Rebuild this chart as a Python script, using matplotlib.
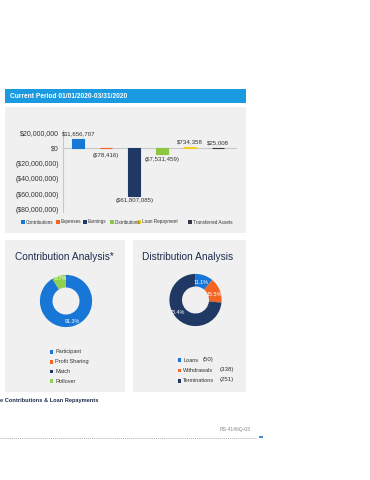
import matplotlib
matplotlib.use('Agg')
import matplotlib.pyplot as plt
from matplotlib.patches import Rectangle
from matplotlib.ticker import FuncFormatter

# ---------------------------------------------------------------------------
# Data
# ---------------------------------------------------------------------------
period_title = 'Current Period 01/01/2020-03/31/2020'

activity_labels = ['Contributions', 'Expenses', 'Earnings', 'Distributions',
                   'Loan Repayment', 'Transferred Assets']
activity_values = [11656707, -78416, -61807085, -7531459, 734358, 25008]
activity_colors = ['#1877d6', '#f26522', '#1f3864', '#8dc63f', '#f5cf1a', '#333a44']
activity_ticks = [20000000, 0, -20000000, -40000000, -60000000, -80000000]

contrib_labels = ['Participant', 'Profit Sharing', 'Match', 'Rollover']
contrib_pct = [91.3, 0.0, 0.0, 8.7]
contrib_colors = ['#1877d6', '#f26522', '#1f3864', '#92d050']

dist_labels = ['Loans', 'Withdrawals', 'Terminations']
dist_pct = [11.1, 15.5, 73.4]
dist_counts = [50, 338, 251]
dist_colors = ['#1877d6', '#f26522', '#1f3864']

footnote = 'e Contributions & Loan Repayments'
doc_code = 'RS-4146Q-03'

# ---------------------------------------------------------------------------
W, H = 370, 480
FONT = ['Liberation Sans', 'DejaVu Sans']
NAVY_TEXT = '#1f2d4d'
PANEL = '#f0f0f0'


def px_axes(fig, x0, y0, x1, y1):
    """Add axes from pixel box (top-left origin)."""
    return fig.add_axes([x0 / W, 1 - y1 / H, (x1 - x0) / W, (y1 - y0) / H])


def money(v, _=None):
    if v < 0:
        return '(${:,.0f})'.format(-v)
    return '${:,.0f}'.format(v)


fig = plt.figure(figsize=(W / 100, H / 100), dpi=100)
fig.patch.set_facecolor('white')

# background canvas in pixel coordinates
bg = fig.add_axes([0, 0, 1, 1])
bg.set_xlim(0, W)
bg.set_ylim(H, 0)
bg.axis('off')

# header + panels
bg.add_patch(Rectangle((5, 89), 241, 14, color='#1a9ae0', lw=0))
bg.text(10, 96.5, period_title, color='white', fontsize=4.8, fontweight='bold',
        family=FONT, va='center', ha='left')
bg.add_patch(Rectangle((5, 107), 241, 126, color=PANEL, lw=0))
bg.add_patch(Rectangle((5, 240), 120, 152, color=PANEL, lw=0))
bg.add_patch(Rectangle((133, 240), 113, 152, color=PANEL, lw=0))

# ---------------------------------------------------------------------------
# Activity bar chart
# ---------------------------------------------------------------------------
ax = px_axes(fig, 63, 130, 237, 212)
ax.set_facecolor('none')
xs = list(range(len(activity_values)))
ax.bar(xs, activity_values, width=0.43, color=activity_colors,
       edgecolor=activity_colors, linewidth=0.8, zorder=3)
ax.axhline(0, color='#c8c8c8', lw=0.8, zorder=2)
ax.set_xlim(-0.55, 5.68)
ax.set_ylim(-83000000, 23400000)
ax.set_yticks(activity_ticks)
ax.yaxis.set_major_formatter(FuncFormatter(money))
ax.set_xticks([])
ax.tick_params(axis='y', length=0, pad=3, labelsize=5.0, labelcolor='#333333')
for lab in ax.get_yticklabels():
    lab.set_family(FONT)
for s in ['top', 'right', 'bottom']:
    ax.spines[s].set_visible(False)
ax.spines['left'].set_color('#c8c8c8')
ax.spines['left'].set_linewidth(0.8)

for x, v in zip(xs, activity_values):
    if v >= 0:
        ax.annotate(money(v), (x, v), xytext=(0, 2), textcoords='offset points',
                    ha='center', va='bottom', fontsize=4.4, family=FONT,
                    color='#333333')
    else:
        ax.annotate(money(v), (x, min(v, -3000000)), xytext=(0, -2),
                    textcoords='offset points', ha='center', va='top',
                    fontsize=4.4, family=FONT, color='#333333')

# bar chart legend
leg_x = [21, 56, 83, 110, 137, 188]
for lx, lab, col in zip(leg_x, activity_labels, activity_colors):
    bg.add_patch(Rectangle((lx, 220.2), 3.5, 3.5, color=col, lw=0))
    bg.text(lx + 4.8, 222, lab, fontsize=3.3, family=FONT, va='center',
            ha='left', color='#333333')

# ---------------------------------------------------------------------------
# Contribution donut
# ---------------------------------------------------------------------------
bg.text(15, 257, 'Contribution Analysis*', fontsize=7.3, family=FONT,
        color=NAVY_TEXT, va='center', ha='left')
ax1 = px_axes(fig, 36, 271, 96, 331)
ax1.pie(contrib_pct, colors=contrib_colors, startangle=90, counterclock=False,
        radius=0.87, wedgeprops=dict(width=0.42, linewidth=0))
ax1.set_xlim(-1, 1)
ax1.set_ylim(-1, 1)
ax1.set_aspect('equal')
ax1.text(0.2, -0.67, '{:.1f}%'.format(contrib_pct[0]), color='white',
         fontsize=3.9, family=FONT, ha='center', va='center')
ax1.text(-0.17, 0.74, '{:.1f}%'.format(contrib_pct[3]), color='white',
         fontsize=3.9, family=FONT, ha='center', va='center')

for i, (lab, col) in enumerate(zip(contrib_labels, contrib_colors)):
    y = 352 + i * 9.7
    bg.add_patch(Rectangle((49.5, y - 1.8), 3.6, 3.6, color=col, lw=0))
    bg.text(55, y, lab, fontsize=4.0, family=FONT, va='center', ha='left',
            color='#333333')

# ---------------------------------------------------------------------------
# Distribution donut
# ---------------------------------------------------------------------------
bg.text(142, 257, 'Distribution Analysis', fontsize=7.3, family=FONT,
        color=NAVY_TEXT, va='center', ha='left')
ax2 = px_axes(fig, 165.5, 270, 225.5, 330)
ax2.pie(dist_pct, colors=dist_colors, startangle=90, counterclock=False,
        radius=0.87, wedgeprops=dict(width=0.42, linewidth=0))
ax2.set_xlim(-1, 1)
ax2.set_ylim(-1, 1)
ax2.set_aspect('equal')
pct_pos = [(0.2, 0.6), (0.62, 0.2), (-0.62, -0.4)]
for (px, py), p in zip(pct_pos, dist_pct):
    ax2.text(px, py, '{:.1f}%'.format(p), color='white', fontsize=3.9,
             family=FONT, ha='center', va='center')

count_x = [203, 220, 220]
for i, (lab, col, n, cx) in enumerate(zip(dist_labels, dist_colors,
                                          dist_counts, count_x)):
    y = 360 + i * 10.5
    bg.add_patch(Rectangle((177.5, y - 1.8), 3.6, 3.6, color=col, lw=0))
    bg.text(183, y, lab, fontsize=4.0, family=FONT, va='center', ha='left',
            color='#333333')
    bg.text(cx, y - 1, '({})'.format(n), fontsize=4.4, family=FONT,
            va='center', ha='left', color='#333333')

# ---------------------------------------------------------------------------
# Footer
# ---------------------------------------------------------------------------
bg.text(0, 400.5, footnote, fontsize=4.1, family=FONT, fontweight='bold',
        color=NAVY_TEXT, va='center', ha='left')
bg.text(250, 430, doc_code, fontsize=3.6, family=FONT, color='#888888',
        va='center', ha='right')
bg.plot([0, 256], [438, 438], color='#b0b0b0', lw=0.7, ls=(0, (1, 1)))
bg.plot([260, 261.5], [437, 437], color='#4a90d9', lw=1.5)

fig.savefig('out.png', dpi=100)
